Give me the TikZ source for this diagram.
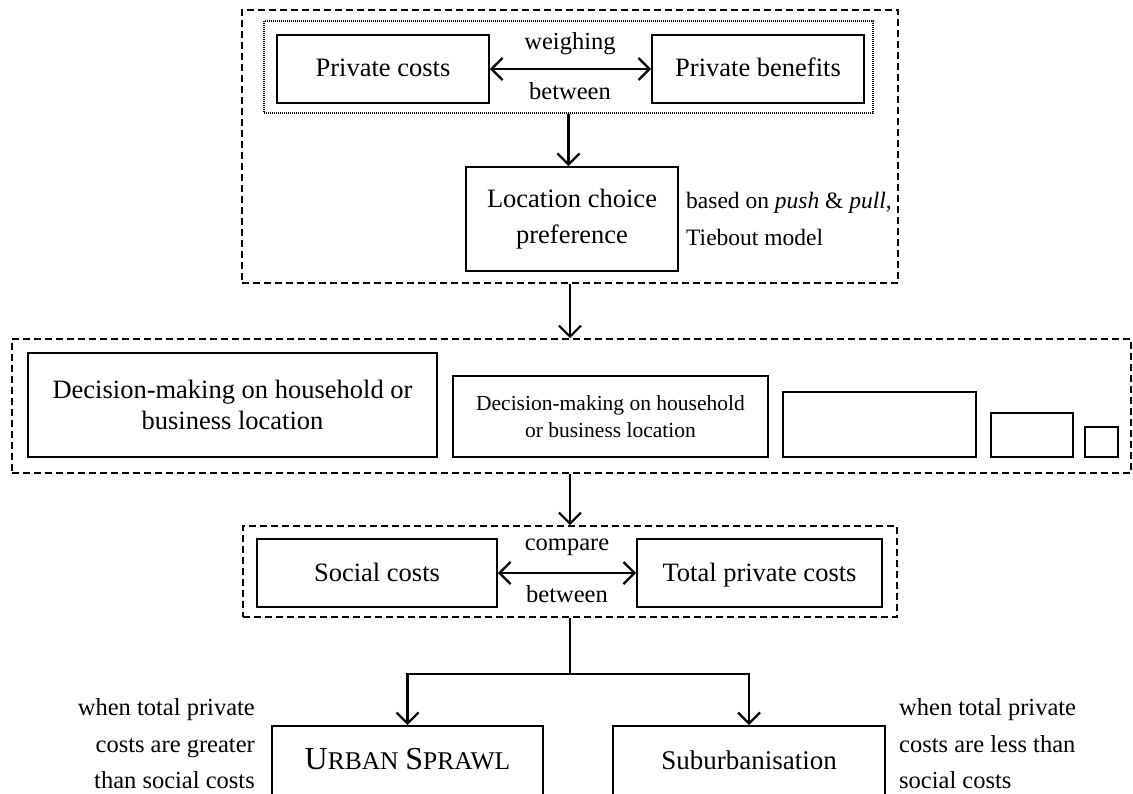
\documentclass[tikz,border=0pt]{standalone}
\usepackage{fontspec}
\setmainfont{Liberation Serif}
\usetikzlibrary{arrows.meta,calc}

\newcommand{\txtsize}{\fontsize{26.5}{31}\selectfont}
\newcommand{\notesize}{\fontsize{24.5}{36.5}\selectfont}
\newcommand{\smallbox}{\fontsize{21.5}{27}\selectfont}
\newcommand{\fakesc}[2]{{\fontsize{32}{36}\selectfont #1}{\fontsize{25.5}{36}\selectfont #2}}

\tikzset{
  box/.style={draw, line width=1.9pt, inner sep=0pt, align=center, font=\txtsize},
  oneline/.style={box, text height=20pt, text depth=4pt},
  group/.style={draw, line width=1.6pt, dash pattern=on 7pt off 4pt, inner sep=0pt},
  pairgroup/.style={draw, line width=1.3pt, dash pattern=on 1pt off 1pt, inner sep=0pt},
  note/.style={inner sep=0pt, font=\notesize},
  link/.style={line width=2.2pt, -{Straight Barb[length=11pt,width=22pt]}},
  biglink/.style={line width=2.2pt, {Straight Barb[length=11pt,width=22pt]}-{Straight Barb[length=11pt,width=22pt]}},
  plain/.style={line width=2.2pt}
}

\begin{document}
\begin{tikzpicture}[x=1pt, y=-1pt]
\useasboundingbox (0,0) rectangle (1133,794);
\clip (0,0) rectangle (1133,794);

% ---- upper group: private costs vs benefits, location choice ----
\node[group, minimum width=656pt, minimum height=273pt] (top) at (570,146.5) {};
\node[pairgroup, minimum width=609pt, minimum height=92pt] (pair) at (568.5,67) {};
\node[oneline, minimum width=212pt, minimum height=68pt] (pc) at (383,69) {Private costs};
\node[oneline, minimum width=212pt, minimum height=68pt] (pb) at (758,69) {Private benefits};
\draw[biglink] (pc.east) -- (pb.west);
\node[note] (weigh) at (570,44) {weighing};
\node[note] (betw1) at (570,91) {between};

\node[box, minimum width=212pt, minimum height=104pt, font=\fontsize{26.5}{36}\selectfont] (loc) at (572,219) {Location choice\\preference};
\node[note, anchor=west, align=left, font=\fontsize{23.5}{36.5}\selectfont] (basis) at (686,219) {based on \textit{push} \& \textit{pull},\\Tiebout model};
\draw[link] (pair.south) -- (pair.south |- loc.north);

% ---- middle group: decision-making boxes ----
\node[group, minimum width=1119pt, minimum height=134pt] (mid) at (571.5,406) {};
\node[box, minimum width=409pt, minimum height=104pt] (d1) at (232.5,405) {Decision-making on household or\\business location};
\node[box, minimum width=315pt, minimum height=81pt, font=\smallbox] (d2) at (610.5,416.5) {Decision-making on household\\or business location};
\node[box, minimum width=193pt, minimum height=65pt] (d3) at (879.5,424.5) {};
\node[box, minimum width=82pt, minimum height=44pt] (d4) at (1032,435) {};
\node[box, minimum width=33pt, minimum height=30pt] (d5) at (1101.5,442) {};
\draw[link] (top.south) -- (top.south |- mid.north);

% ---- lower group: social vs total private costs ----
\node[group, minimum width=654pt, minimum height=91pt] (bot) at (570,571.5) {};
\node[oneline, minimum width=240pt, minimum height=68pt] (sc) at (377,573) {Social costs};
\node[oneline, minimum width=245pt, minimum height=68pt] (tpc) at (759.5,573) {Total private costs};
\draw[biglink] (sc.east) -- (tpc.west);
\node[note] (comp) at (567,547) {compare};
\node[note] (betw2) at (567,594) {between};
\draw[link] (mid.south -| bot.north) -- (bot.north);

% ---- outcomes ----
\node[oneline, minimum width=271pt, minimum height=70pt] (us) at (407.5,761) {\fakesc{U}{RBAN} \fakesc{S}{PRAWL}};
\node[oneline, minimum width=272pt, minimum height=70pt, font=\fontsize{27}{31}\selectfont] (sub) at (749,761) {Suburbanisation};
\node[note, anchor=east, align=right] (greater) at (255,744) {when total private\\costs are greater\\than social costs};
\node[note, anchor=west, align=left] (less) at (899,744) {when total private\\costs are less than\\social costs};

\coordinate (fork) at ($(bot.south)+(0,56)$);
\draw[plain] (bot.south) -- (fork);
\draw[link] (fork) -| (us.north);
\draw[link] (fork) -| (sub.north);
\end{tikzpicture}
\end{document}
